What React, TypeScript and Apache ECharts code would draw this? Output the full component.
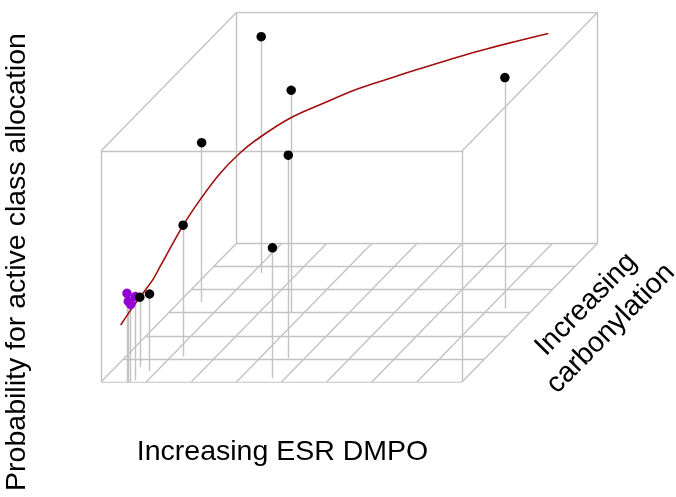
import React, { useEffect, useRef } from "react";
import * as echarts from "echarts";

// Active-class samples (black): ESR DMPO, carbonylation, probability
const esrDmpo = [1.19, 2.72, 3.63, 0.5, 1.27, 3.72, 7.36, 0.83, 0.54];
const carbonylation = [4.72, 2.99, 1.04, 3.46, 1.1, 0.16, 3.18, 0.49, 0.64];
const probability = [1.023, 0.964, 0.878, 0.69, 0.569, 0.565, 1.0, 0.332, 0.303];

// Reference samples (purple)
const refEsr = [0.576, 0.72, 0.605, 0.658];
const refCarb = [0, 0.087, 0, 0];
const refProb = [0.384, 0.361, 0.349, 0.336];

// Fitted curve
const curveEsr = [0.437, 0.653, 0.921, 1.032, 1.385, 1.638, 1.94, 2.243, 2.546, 3.0, 3.505, 4.01, 4.515, 4.867, 5.877, 6.912];
const curveCarb = [0, 0.201, 0.449, 0.551, 0.878, 1.113, 1.394, 1.674, 1.955, 2.376, 2.844, 3.313, 3.78, 4.107, 5.043, 6.0];
const curveProb = [0.247, 0.318, 0.397, 0.444, 0.591, 0.677, 0.763, 0.824, 0.864, 0.904, 0.922, 0.936, 0.937, 0.937, 0.93, 0.909];

// Floor grid ticks
const esrTicks = [0, 1, 2, 3, 4, 5, 6, 7, 8];
const carbTicks = [0, 1, 2, 3, 4, 5, 6];
const probRange = [0, 1];

const DX = 0.5; // depth shift along x per carbonylation unit
const DZ = 0.1; // depth shift along z per carbonylation unit

function proj(x: number, d: number, z: number): [number, number] {
  return [x + DX * d, z + DZ * d];
}

export default function App() {
  const ref = useRef<HTMLDivElement>(null);
  useEffect(() => {
    if (!ref.current) return;
    const chart = echarts.init(ref.current, undefined, { renderer: "svg" });
    const xMin = esrTicks[0];
    const xMax = esrTicks[esrTicks.length - 1];
    const dMin = carbTicks[0];
    const dMax = carbTicks[carbTicks.length - 1];
    const zMin = probRange[0];
    const zMax = probRange[1];

    const gridSegs: any[] = [];
    carbTicks.forEach((d) => gridSegs.push({ coords: [proj(xMin, d, zMin), proj(xMax, d, zMin)] }));
    esrTicks.forEach((x) => gridSegs.push({ coords: [proj(x, dMin, zMin), proj(x, dMax, zMin)] }));
    // box
    gridSegs.push({ coords: [proj(xMin, dMin, zMin), proj(xMin, dMin, zMax)] });
    gridSegs.push({ coords: [proj(xMax, dMin, zMin), proj(xMax, dMin, zMax)] });
    gridSegs.push({ coords: [proj(xMin, dMin, zMax), proj(xMax, dMin, zMax)] });
    gridSegs.push({ coords: [proj(xMin, dMax, zMin), proj(xMin, dMax, zMax)] });
    gridSegs.push({ coords: [proj(xMax, dMax, zMin), proj(xMax, dMax, zMax)] });
    gridSegs.push({ coords: [proj(xMin, dMax, zMax), proj(xMax, dMax, zMax)] });
    gridSegs.push({ coords: [proj(xMin, dMin, zMax), proj(xMin, dMax, zMax)] });
    gridSegs.push({ coords: [proj(xMax, dMin, zMax), proj(xMax, dMax, zMax)] });

    const drops: any[] = [];
    refEsr.forEach((x, i) =>
      drops.push({ coords: [proj(x, refCarb[i], refProb[i]), proj(x, refCarb[i], zMin)] })
    );
    esrDmpo.forEach((x, i) =>
      drops.push({ coords: [proj(x, carbonylation[i], probability[i]), proj(x, carbonylation[i], zMin)] })
    );

    const curve = curveEsr.map((x, i) => proj(x, curveCarb[i], curveProb[i]));
    const black = esrDmpo.map((x, i) => proj(x, carbonylation[i], probability[i]));
    const purple = refEsr.map((x, i) => proj(x, refCarb[i], refProb[i]));

    const font = '"Liberation Sans", Arial, sans-serif';

    chart.setOption({
      animation: false,
      grid: { left: 101, top: 12.4, width: 496.4, height: 369.6 },
      xAxis: { type: "value", min: 0, max: xMax + DX * dMax, show: false },
      yAxis: { type: "value", min: 0, max: zMax + DZ * dMax, show: false },
      series: [
        {
          type: "lines",
          coordinateSystem: "cartesian2d",
          data: gridSegs,
          silent: true,
          lineStyle: { color: "#c3c3c3", width: 1.4, opacity: 1 },
          z: 1,
        },
        {
          type: "lines",
          coordinateSystem: "cartesian2d",
          data: drops,
          silent: true,
          lineStyle: { color: "#c3c3c3", width: 1.4, opacity: 1 },
          z: 2,
        },
        {
          type: "line",
          data: curve,
          smooth: 0.35,
          showSymbol: false,
          lineStyle: { color: "#a30d0d", width: 1.6 },
          z: 3,
        },
        {
          type: "scatter",
          data: purple,
          symbolSize: 9.5,
          itemStyle: { color: "#9400d3", opacity: 1 },
          z: 4,
        },
        {
          type: "scatter",
          data: black,
          symbolSize: 9.5,
          itemStyle: { color: "#000000", opacity: 1 },
          z: 5,
        },
      ],
      graphic: [
        {
          type: "text",
          x: 15,
          y: 262,
          rotation: Math.PI / 2,
          style: {
            text: "Probability for active class allocation",
            fontSize: 28.5,
            fontFamily: font,
            fill: "#000",
            align: "center",
            verticalAlign: "middle",
          },
        },
        {
          type: "text",
          x: 282.5,
          y: 450,
          style: {
            text: "Increasing ESR DMPO",
            fontSize: 28.5,
            fontFamily: font,
            fill: "#000",
            align: "center",
            verticalAlign: "middle",
          },
        },
        {
          type: "text",
          x: 597,
          y: 315,
          rotation: (45.5 * Math.PI) / 180,
          style: {
            text: "Increasing\ncarbonylation",
            fontSize: 28.5,
            lineHeight: 34.5,
            fontFamily: font,
            fill: "#000",
            align: "center",
            verticalAlign: "middle",
          },
        },
      ],
    });
    return () => chart.dispose();
  }, []);
  return (
    <div
      ref={ref}
      style={{ position: "fixed", left: 0, top: 0, width: 676, height: 497 }}
    />
  );
}
